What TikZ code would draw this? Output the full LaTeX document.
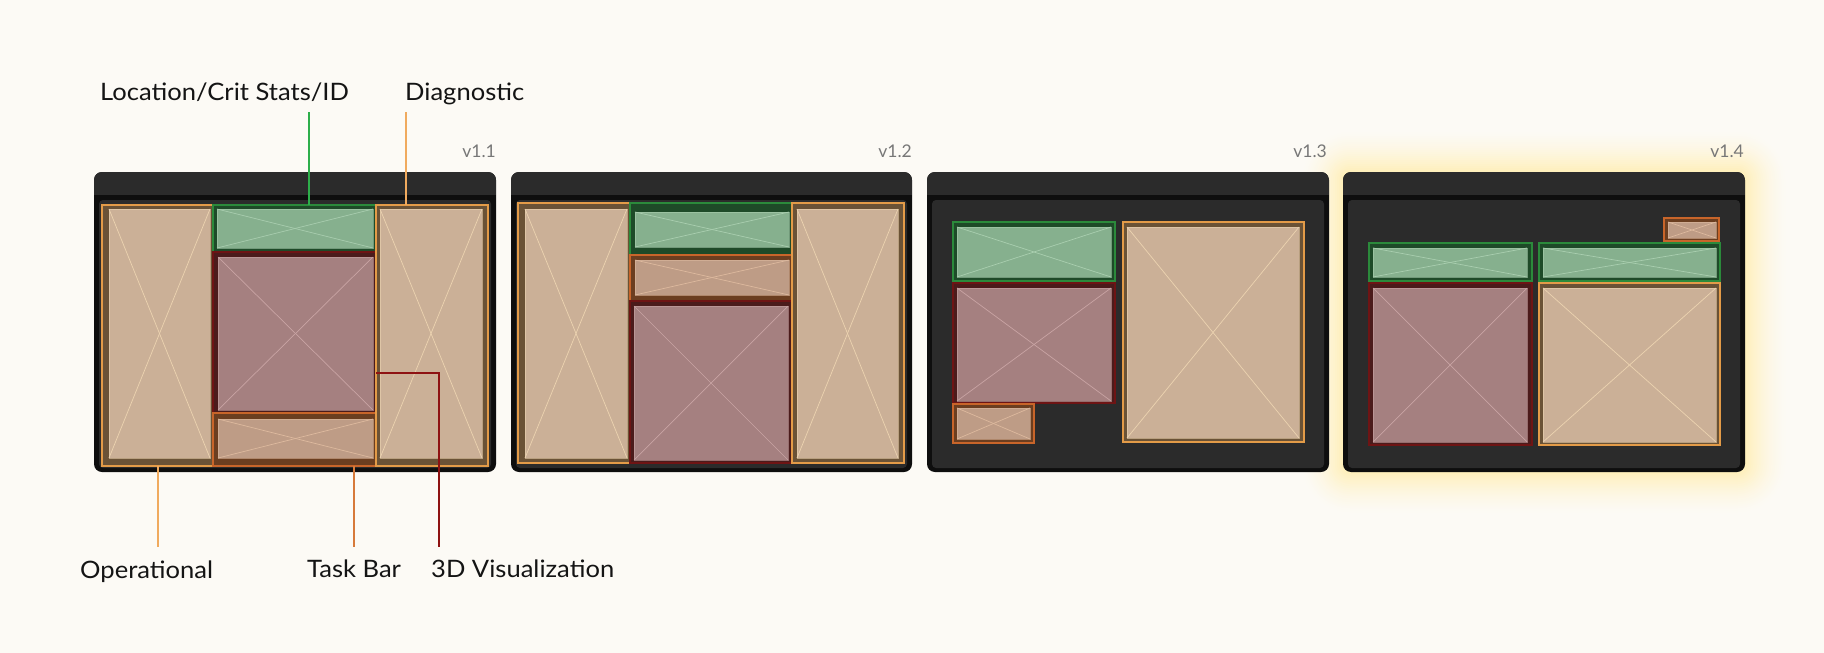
\documentclass[tikz,border=0pt]{standalone}
\usepackage{fontspec}
\setmainfont{Lato}
\newfontfamily\lblfont[FakeStretch=1.065]{Lato}
\usetikzlibrary{fit}
\definecolor{bg}{HTML}{FCFAF5}
\definecolor{winblack}{HTML}{0E0E0E}
\definecolor{wingray}{HTML}{2B2B2B}
\definecolor{glowc}{HTML}{FFEFB8}
\definecolor{tanF}{HTML}{CBB097}
\definecolor{tanD}{HTML}{ECD3B0}
\definecolor{tanB}{HTML}{6A5236}
\definecolor{tanL}{HTML}{E39B48}
\definecolor{grnF}{HTML}{86B08E}
\definecolor{grnD}{HTML}{A9CEAF}
\definecolor{grnB}{HTML}{1E4A28}
\definecolor{grnL}{HTML}{2B8A3B}
\definecolor{vizF}{HTML}{A58080}
\definecolor{vizD}{HTML}{C9A4A4}
\definecolor{vizB}{HTML}{4B1B1B}
\definecolor{vizL}{HTML}{6E1414}
\definecolor{tskF}{HTML}{BE9C86}
\definecolor{tskD}{HTML}{DDB99E}
\definecolor{tskB}{HTML}{6B3E20}
\definecolor{tskL}{HTML}{C8652A}
\definecolor{txt}{HTML}{141414}
\definecolor{vtxt}{HTML}{777777}
\definecolor{ldgrn}{HTML}{2DAE4A}
\definecolor{ldorg}{HTML}{F0AA5E}
\definecolor{ldtsk}{HTML}{D77A3A}
\definecolor{ldviz}{HTML}{8E1212}
\tikzset{
  tanband/.style={fill=tanB}, tanline/.style={draw=tanL, line width=1.6pt},
  tanfill/.style={fill=tanF}, tandiag/.style={draw=tanD, line width=0.7pt},
  grnband/.style={fill=grnB}, grnline/.style={draw=grnL, line width=1.6pt},
  grnfill/.style={fill=grnF}, grndiag/.style={draw=grnD, line width=0.7pt},
  vizband/.style={fill=vizB}, vizline/.style={draw=vizL, line width=1.6pt},
  vizfill/.style={fill=vizF}, vizdiag/.style={draw=vizD, line width=0.7pt},
  tskband/.style={fill=tskB}, tskline/.style={draw=tskL, line width=1.6pt},
  tskfill/.style={fill=tskF}, tskdiag/.style={draw=tskD, line width=0.7pt},
  lbl/.style={text=txt, font=\lblfont\fontsize{24}{28}\selectfont, inner sep=0pt},
  vlbl/.style={text=vtxt, font=\fontsize{17.5}{20}\selectfont, inner sep=0pt, anchor=base east},
  leader/.style={line width=1.8pt},
}
\newcommand\wpanel[6]{%
  \fill[#1band] (#2) rectangle (#3);
  \draw[#1line] (#2) rectangle (#3);
  \fill[#1fill] (#4) rectangle (#5);
  \coordinate (pA) at (#4); \coordinate (pB) at (#5);
  \draw[#1diag, opacity=0.6] (pA) rectangle (pB);
  \draw[#1diag] (pA) -- (pB);
  \draw[#1diag] (pA |- pB) -- (pB |- pA);
  \node[fit={(#2) (#3)}, inner sep=0pt] (#6) {};
}
\newcommand\uiwindow[3]{%
  \fill[winblack, rounded corners=8pt] (#1,172) rectangle (#2,472);
  \begin{scope}
    \clip[rounded corners=8pt] (#1,172) rectangle (#2,472);
    \fill[wingray] (#1,172) rectangle (#2,195);
  \end{scope}
  \fill[wingray, rounded corners=4pt] (#1+5,200) rectangle (#2-5,468);
  \node[fit={(#1,172) (#2,472)}, inner sep=0pt] (#3) {};
}
\begin{document}
\begin{tikzpicture}[x=1pt, y=-1pt]
\useasboundingbox (0,0) rectangle (1824,653);
\fill[bg] (0,0) rectangle (1824,653);

% ---------- glow of v1.4 (opaque rings, outer to inner)
\foreach \i in {22,...,1} {
  \pgfmathsetmacro\r{8+2*\i}
  \pgfmathsetmacro\t{100*(1-\i/22)^1.6}
  \fill[glowc!\t!bg, rounded corners=\r pt]
    (1343-2*\i,172-2*\i) rectangle (1745+2*\i,472+2*\i);
}

% ---------- v1.1
\uiwindow{94}{496}{w1}
\wpanel{tan}{102,205}{213,466}{109,209}{210,458}{a1}
\wpanel{grn}{213,205}{376,252}{217,209}{373,248}{a2}
\wpanel{viz}{213,252}{376,413}{218,257}{373,410}{a3}
\wpanel{tsk}{213,413}{376,466}{218,419}{373,458}{a4}
\wpanel{tan}{376,205}{488,466}{380,209}{482,458}{a5}
\node[vlbl] (v1) at (496,157) {v1.1};

% ---------- v1.2
\uiwindow{511}{912}{w2}
\wpanel{tan}{518,203}{630,463}{525,209}{627,458}{b1}
\wpanel{grn}{630,203}{792,255}{635,212}{789,247}{b2}
\wpanel{tsk}{630,255}{792,301}{635,260}{789,295}{b3}
\wpanel{viz}{630,301}{792,463}{634,306}{788,460}{b4}
\wpanel{tan}{792,203}{904,463}{797,209}{898,458}{b5}
\node[vlbl] (v2) at (912,157) {v1.2};

% ---------- v1.3
\uiwindow{927}{1329}{w3}
\wpanel{grn}{953,222}{1115,281}{957,227}{1111,277}{c1}
\wpanel{viz}{953,283}{1115,403}{957,288}{1111,401}{c2}
\wpanel{tsk}{953,404}{1034,443}{957,408}{1030,439}{c3}
\wpanel{tan}{1123,222}{1304,442}{1127,227}{1299,438}{c4}
\node[vlbl] (v3) at (1327,157) {v1.3};

% ---------- v1.4
\uiwindow{1343}{1745}{w4}
\wpanel{tsk}{1664,218}{1719,241}{1668,222}{1716,238}{d1}
\wpanel{grn}{1369,243}{1532,281}{1373,248}{1527,277}{d2}
\wpanel{grn}{1539,243}{1720,281}{1543,248}{1716,277}{d3}
\wpanel{viz}{1369,283}{1532,445}{1373,288}{1527,442}{d4}
\wpanel{tan}{1539,283}{1720,445}{1543,288}{1716,442}{d5}
\node[vlbl] (v4) at (1744,157) {v1.4};

% ---------- labels and leaders
\node[lbl, anchor=base west] (Lloc) at (100,100) {Location/Crit Stats/ID};
\node[lbl, anchor=base west] (Ldia) at (405,100) {Diagnostic};
\node[lbl, anchor=base west] (Lop) at (80,578) {Operational};
\node[lbl, anchor=base west] (Ltb) at (307,577) {Task Bar};
\node[lbl, anchor=base west] (Lviz) at (431,577) {3D Visualization};

\coordinate (locT) at (309,112);
\coordinate (diaT) at (406,112);
\coordinate (opB) at (158,547);
\coordinate (tbB) at (354,547);
\coordinate (vzB) at (439,547);
\coordinate (vzM) at (439,373);
\draw[leader, ldgrn] (locT) -- (locT |- a2.north);
\draw[leader, ldorg] (diaT) -- (diaT |- a5.north);
\draw[leader, ldorg] (a1.south -| opB) -- (opB);
\draw[leader, ldtsk] (a4.south -| tbB) -- (tbB);
\draw[leader, ldviz] (vzM -| a3.east) -- (vzM) -- (vzB);
\end{tikzpicture}
\end{document}
